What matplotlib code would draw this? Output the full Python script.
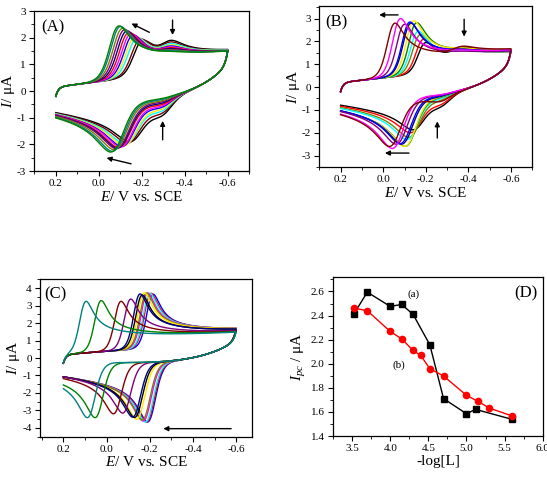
import numpy as np
import matplotlib
matplotlib.use("Agg")
import matplotlib.pyplot as plt
from matplotlib.ticker import MultipleLocator, FormatStrFormatter

plt.rcParams['font.family'] = ['Liberation Serif', 'DejaVu Serif']
plt.rcParams['mathtext.fontset'] = 'custom'
plt.rcParams['mathtext.rm'] = 'Liberation Serif'
plt.rcParams['mathtext.it'] = 'Liberation Serif:italic'
plt.rcParams['axes.unicode_minus'] = False

# ---------------- data ----------------
# Panel A
A_colors = ['#000000', '#800000', '#00FFFF', '#FFE600', '#0000FF', '#FF00FF',
            '#FF0000', '#000080', '#800080', '#808000', '#008080', '#008000']
A_Epc = [-0.205, -0.195, -0.18, -0.17, -0.16, -0.15, -0.14, -0.13, -0.12, -0.11, -0.10, -0.093]
A_Ipc = [1.90, 1.95, 2.00, 2.05, 2.10, 2.15, 2.20, 2.25, 2.30, 2.35, 2.42, 2.44]
A_Epa = [-0.14, -0.13, -0.12, -0.115, -0.105, -0.10, -0.09, -0.085, -0.08, -0.07, -0.062, -0.055]
A_Ipa = [-1.90, -1.95, -2.00, -2.05, -2.08, -2.10, -2.12, -2.14, -2.16, -2.20, -2.26, -2.29]
A_h2 = [0.55, 0.48, 0.42, 0.36, 0.31, 0.27, 0.23, 0.19, 0.15, 0.12, 0.08, 0.05]
A_E2 = (-0.345, -0.285)

# Panel B
B_colors = ['#000000', '#FF0000', '#808000', '#00FFFF', '#008000', '#FFE600',
            '#000080', '#0000FF', '#800080', '#FF00FF', '#800000']
B_Epc = [-0.20, -0.19, -0.175, -0.165, -0.157, -0.144, -0.13, -0.125, -0.10, -0.081, -0.055]
B_Ipc = [1.95, 2.10, 2.30, 2.45, 2.82, 2.90, 2.80, 2.85, 2.75, 3.00, 2.80]
B_Epa = [-0.136, -0.125, -0.118, -0.11, -0.102, -0.10, -0.085, -0.078, -0.06, -0.042, -0.028]
B_Ipa = [-1.87, -2.00, -2.20, -2.30, -2.60, -2.60, -2.50, -2.48, -2.50, -2.69, -2.60]
B_h2 = [0.45, 0.38, 0.22, 0.16, 0.12, 0.10, 0.10, 0.08, 0.06, 0.05, 0.30]
B_E2 = (-0.38, -0.26)

# Panel C
C_colors = ['#0000FF', '#FF0000', '#00FFFF', '#FF00FF', '#808000', '#FFE600',
            '#000000', '#000080', '#800080', '#800000', '#008000', '#008080']
C_Epc = [-0.215, -0.205, -0.20, -0.19, -0.185, -0.175, -0.165, -0.155, -0.112, -0.067, 0.025, 0.095]
C_Ipc = [3.65, 3.70, 3.70, 3.72, 3.72, 3.73, 3.60, 3.66, 3.37, 3.24, 3.28, 3.24]
C_Epa = [-0.19, -0.185, -0.18, -0.17, -0.165, -0.14, -0.13, -0.121, -0.075, -0.032, 0.053, 0.089]
C_Ipa = [-3.66, -3.66, -3.66, -3.60, -3.55, -3.50, -3.40, -3.38, -3.15, -3.19, -3.41, -3.41]
C_h2 = [0.0] * len(C_Epc)
C_E2 = (-0.35, -0.30)

# Panel D
D_xa = [3.52, 3.70, 4.00, 4.15, 4.30, 4.52, 4.70, 5.00, 5.12, 5.60]
D_ya = [2.41, 2.594, 2.476, 2.492, 2.41, 2.157, 1.71, 1.585, 1.621, 1.538]
D_xb = [3.52, 3.70, 4.00, 4.15, 4.30, 4.40, 4.52, 4.70, 5.00, 5.15, 5.30, 5.60]
D_yb = [2.462, 2.44, 2.268, 2.207, 2.11, 2.069, 1.959, 1.898, 1.738, 1.688, 1.632, 1.566]

# ---------------- CV model (reversible wave via semi-differentiation) ----------------
FF = 38.92
NPTS = 700
E_FWD = np.linspace(0.2, -0.6, NPTS)
E_REV = np.linspace(-0.6, 0.2, NPTS + 1)[1:]


def semi_derivative(m):
    n = len(m)
    j = np.arange(1, n)
    w = np.concatenate([[1.0], np.cumprod((j - 1.5) / j)])
    return np.convolve(m, w)[:n]


def red_unit(Ep, n):
    m = 1.0 / (1.0 + np.exp(n * FF * (E_FWD - (Ep + 0.0285 / n))))
    i = semi_derivative(m - m[0])
    return i / i.max()


def ox_unit(Ep, n):
    m = 1.0 / (1.0 + np.exp(-n * FF * (E_REV - (Ep - 0.0285 / n))))
    i = semi_derivative(m - m[0])
    return i / i.max()


def cv_curve(Epc, Ipc, Epa, Ipa, h2, E2, p):
    f0, f1, a0, r0, r1, r2, tr, n, nr = p
    bf = f0 + f1 * (0.2 - E_FWD) - a0 * np.exp(-(0.2 - E_FWD) / 0.012)
    br = r0 + r1 * (E_REV + 0.6) + r2 * np.exp(-(E_REV + 0.6) / tr)
    uf = red_unit(Epc, n)
    ur = ox_unit(Epa, nr)
    if h2 > 0:
        s2f = h2 * red_unit(E2[0], 1.0)
        s2r = -h2 * 1.2 * ox_unit(E2[1], 0.9)
    else:
        s2f = np.zeros(NPTS)
        s2r = np.zeros(NPTS)
    k = np.argmax(uf)
    sf = Ipc - bf[k] - s2f[k]
    k2 = np.argmax(ur)
    sr = -(Ipa - br[k2] - s2r[k2])
    If = bf + sf * uf + s2f
    Ir = br - sr * ur + s2r
    jump = If[-1] - Ir[0]
    Ir = Ir + jump * np.exp(-(E_REV + 0.6) / 0.012)
    return np.concatenate([E_FWD, E_REV]), np.concatenate([If, Ir])


# ---------------- figure ----------------
fig = plt.figure(figsize=(5.47, 4.82), dpi=100)
W, H = 547.0, 482.0


def add_ax(x0, x1, y0, y1):
    return fig.add_axes([x0 / W, 1 - y1 / H, (x1 - x0) / W, (y1 - y0) / H])


axA = add_ax(34.3, 249.3, 11, 171)
axB = add_ax(319.3, 532.3, 6, 167)
axC = add_ax(40, 252.3, 279.3, 436.7)
axD = add_ax(333, 542.7, 277, 436)

TICK_FS = 8
LAB_FS = 11


def style(ax):
    ax.tick_params(which='both', direction='out', labelsize=TICK_FS, top=False, right=False)
    ax.tick_params(which='major', length=3.5, width=0.8, pad=2.5)
    ax.tick_params(which='minor', length=2, width=0.6)
    for s in ax.spines.values():
        s.set_linewidth(0.9)


def arrow(ax, x0, y0, x1, y1):
    ax.annotate('', xy=(x1, y1), xytext=(x0, y0),
                arrowprops=dict(arrowstyle='-|>', color='black', lw=1.0,
                                mutation_scale=7, shrinkA=0, shrinkB=0))


# model parameters: f0, f1, a0, r0, r1, r2, tr, n_fwd, n_rev
panels = [
    (axA, A_colors, A_Epc, A_Ipc, A_Epa, A_Ipa, A_h2, A_E2,
     (0.15, 1.0, 0.35, -0.9, 0.9, 1.9, 0.2, 1.1, 0.8)),
    (axB, B_colors, B_Epc, B_Ipc, B_Epa, B_Ipa, B_h2, B_E2,
     (0.2, 1.0, 0.4, -0.95, 0.9, 2.0, 0.2, 1.3, 0.9)),
    (axC, C_colors, C_Epc, C_Ipc, C_Epa, C_Ipa, C_h2, C_E2,
     (0.2, 0.9, 0.5, -0.8, 0.8, 1.8, 0.2, 1.6, 1.3)),
]
for ax, cols, epc, ipc, epa, ipa, h2, e2, p in panels:
    for c, a, b, cc, d, h in zip(cols, epc, ipc, epa, ipa, h2):
        E, I = cv_curve(a, b, cc, d, h, e2, p)
        ax.plot(E, I, color=c, lw=1.0)
    style(ax)
    ax.xaxis.set_major_locator(MultipleLocator(0.2))
    ax.xaxis.set_minor_locator(MultipleLocator(0.1))
    ax.yaxis.set_major_locator(MultipleLocator(1))
    ax.yaxis.set_minor_locator(MultipleLocator(0.5))
    ax.xaxis.set_major_formatter(FormatStrFormatter('%.1f'))
    ax.set_xlabel(r'$E$/ V vs. SCE', fontsize=LAB_FS, labelpad=1)
    ax.set_ylabel(r'$I$/ μA', fontsize=LAB_FS, labelpad=0)

axA.set_xlim(0.3, -0.7)
axA.set_ylim(-3, 3)
axB.set_xlim(0.3, -0.7)
axB.set_ylim(-3.5, 3.55)
axC.set_xlim(0.308, -0.675)
axC.set_ylim(-4.5, 4.5)

axA.text(0.03, 0.90, '(A)', transform=axA.transAxes, fontsize=12, va='center', ha='left')
axB.text(0.03, 0.90, '(B)', transform=axB.transAxes, fontsize=12, va='center', ha='left')
axC.text(0.02, 0.905, '(C)', transform=axC.transAxes, fontsize=12, va='center', ha='left')

# arrows
arrow(axA, -0.235, 2.20, -0.152, 2.53)
arrow(axA, -0.343, 2.66, -0.343, 2.10)
arrow(axA, -0.297, -1.83, -0.297, -1.12)
arrow(axA, -0.15, -2.73, -0.036, -2.51)
arrow(axB, -0.07, 3.16, 0.019, 3.16)
arrow(axB, -0.38, 2.97, -0.38, 2.21)
arrow(axB, -0.254, -2.23, -0.254, -1.50)
arrow(axB, -0.121, -2.89, -0.008, -2.89)
arrow(axC, -0.577, -4.04, -0.263, -4.04)

# Panel D
axD.plot(D_xa, D_ya, color='black', lw=1.0, marker='s', ms=4.2, mfc='black', mec='black')
axD.plot(D_xb, D_yb, color='red', lw=1.0, marker='o', ms=4.5, mfc='red', mec='red')
style(axD)
axD.set_xlim(3.25, 6.0)
axD.set_ylim(1.4, 2.72)
axD.xaxis.set_major_locator(MultipleLocator(0.5))
axD.xaxis.set_minor_locator(MultipleLocator(0.25))
axD.yaxis.set_major_locator(MultipleLocator(0.2))
axD.yaxis.set_minor_locator(MultipleLocator(0.1))
axD.xaxis.set_major_formatter(FormatStrFormatter('%.1f'))
axD.yaxis.set_major_formatter(FormatStrFormatter('%.1f'))
axD.set_xlabel('-log[L]', fontsize=LAB_FS, labelpad=1)
axD.set_ylabel(r'$I_{pc}$ / μA', fontsize=LAB_FS, labelpad=2)
axD.text(4.30, 2.575, '(a)', fontsize=8, ha='center', va='center')
axD.text(4.11, 1.99, '(b)', fontsize=8, ha='center', va='center')
axD.text(0.975, 0.90, '(D)', transform=axD.transAxes, fontsize=12, va='center', ha='right')

fig.savefig('out.png', dpi=100)
